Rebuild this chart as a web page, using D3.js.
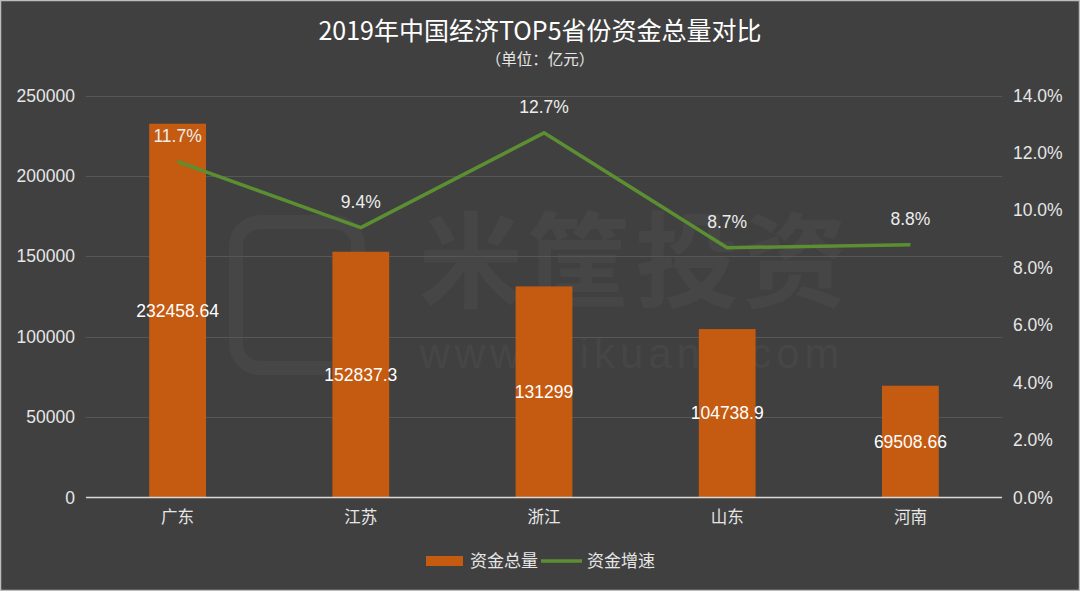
<!DOCTYPE html>
<html><head><meta charset="utf-8">
<script src="https://cdn.jsdelivr.net/npm/d3@7/dist/d3.min.js"></script>
<style>
html,body{margin:0;padding:0;background:#404040;}
svg{display:block;font-family:"Liberation Sans","Noto Sans CJK SC",sans-serif;}
</style></head>
<body>
<svg id="chart" width="1080" height="591"></svg>
<script>
const categories = ["广东","江苏","浙江","山东","河南"];
const amounts = [232458.64, 152837.3, 131299, 104738.9, 69508.66];
const amountLabels = ["232458.64","152837.3","131299","104738.9","69508.66"];
const growth = [11.7, 9.4, 12.7, 8.7, 8.8];
const leftTicks = [0, 50000, 100000, 150000, 200000, 250000];
const rightTicks = [0, 2, 4, 6, 8, 10, 12, 14];
const seriesNames = ["资金总量","资金增速"];
const titleText = "2019年中国经济TOP5省份资金总量对比";
const subtitleText = "（单位：亿元）";

(function(){
const W = 1080, H = 591;
const svg = d3.select("#chart");
const cjk = '"Noto Sans CJK SC","Liberation Sans",sans-serif';
const lat = '"Liberation Sans", sans-serif';

svg.append("rect").attr("width", W).attr("height", H).attr("fill", "#404040");
svg.append("rect").attr("x", 0.5).attr("y", 0.5).attr("width", W-1).attr("height", H-1)
  .attr("fill", "none").attr("stroke", "#bdbdbd").attr("stroke-width", 1.5);

const pL = 86, pR = 1002, pT = 95.5, pB = 497.5;

const x = d3.scaleBand().domain(categories).range([pL, pR]).padding(0);
const y = d3.scaleLinear().domain([0, 250000]).range([pB, pT]);
const y2 = d3.scaleLinear().domain([0, 14]).range([pB, pT]);

// watermark (faint)
const wmc = "#464646";
const wm = svg.append("g").attr("fill", wmc);
wm.append("text").attr("x", 635).attr("y", 300).attr("text-anchor", "middle")
  .attr("font-family", cjk).attr("font-size", 104).attr("font-weight", 700)
  .attr("letter-spacing", 4).text("米筐投资");
wm.append("text").attr("x", 632).attr("y", 368).attr("text-anchor", "middle")
  .attr("font-family", lat).attr("font-size", 42)
  .attr("letter-spacing", 5).text("www.mikuang.com");
wm.append("rect").attr("x", 236).attr("y", 222).attr("width", 122).attr("height", 146)
  .attr("rx", 24).attr("fill", "none").attr("stroke", wmc).attr("stroke-width", 14);

// gridlines
svg.append("g").selectAll("line").data(leftTicks.filter(d => d > 0)).join("line")
  .attr("x1", pL).attr("x2", pR)
  .attr("y1", d => Math.round(y(d)) + 0.5).attr("y2", d => Math.round(y(d)) + 0.5)
  .attr("stroke", "#575757").attr("stroke-width", 1);

// left axis
const ly = svg.append("g").attr("transform", `translate(${pL},0)`)
  .call(d3.axisLeft(y).tickValues(leftTicks).tickSize(0).tickPadding(11).tickFormat(d3.format("d")));
ly.select(".domain").remove();
ly.selectAll("text").attr("fill", "#e6e6e6").attr("font-size", 17.5).attr("font-family", lat);

// right axis
const ry = svg.append("g").attr("transform", `translate(${pR},0)`)
  .call(d3.axisRight(y2).tickValues(rightTicks).tickSize(0).tickPadding(11).tickFormat(d => d.toFixed(1) + "%"));
ry.select(".domain").remove();
ry.selectAll("text").attr("fill", "#e6e6e6").attr("font-size", 17.5).attr("font-family", lat);

// bars
const barW = x.bandwidth() * 0.31;
svg.append("g").selectAll("rect").data(categories).join("rect")
  .attr("x", (d) => x(d) + x.bandwidth()/2 - barW/2)
  .attr("y", (d, i) => y(amounts[i]))
  .attr("width", barW)
  .attr("height", (d, i) => y(0) - y(amounts[i]))
  .attr("fill", "#c55a11");

// baseline
svg.append("line").attr("x1", pL).attr("x2", pR)
  .attr("y1", pB).attr("y2", pB).attr("stroke", "#d9d9d9").attr("stroke-width", 1.5);

// x axis labels
const xa = svg.append("g").attr("transform", `translate(0,${pB})`)
  .call(d3.axisBottom(x).tickSize(0).tickPadding(14));
xa.select(".domain").remove();
xa.selectAll("text").attr("fill", "#e6e6e6").attr("font-size", 16.5).attr("font-family", cjk);

// bar value labels
svg.append("g").selectAll("text").data(categories).join("text")
  .attr("x", d => x(d) + x.bandwidth()/2)
  .attr("y", (d, i) => (y(amounts[i]) + y(0)) / 2)
  .attr("dy", "0.35em").attr("text-anchor", "middle")
  .attr("fill", "#ffffff").attr("font-size", 17.5).attr("font-family", lat)
  .text((d, i) => amountLabels[i]);

// line
const line = d3.line().x((d, i) => x(categories[i]) + x.bandwidth()/2).y(d => y2(d));
svg.append("path").datum(growth).attr("d", line)
  .attr("fill", "none").attr("stroke", "#5b8f32").attr("stroke-width", 3.5)
  .attr("stroke-linejoin", "round");

// line labels
svg.append("g").selectAll("text").data(growth).join("text")
  .attr("x", (d, i) => x(categories[i]) + x.bandwidth()/2)
  .attr("y", d => y2(d) - 26)
  .attr("dy", "0.35em").attr("text-anchor", "middle")
  .attr("fill", "#ececec").attr("font-size", 17.5).attr("font-family", lat)
  .text(d => d.toFixed(1) + "%");

// title
svg.append("text").attr("x", 540).attr("y", 40).attr("text-anchor", "middle")
  .attr("fill", "#ffffff").attr("font-size", 25).attr("font-family", cjk)
  .text(titleText);
svg.append("text").attr("x", 540).attr("y", 65).attr("text-anchor", "middle")
  .attr("fill", "#e6e6e6").attr("font-size", 15.5).attr("font-family", cjk)
  .text(subtitleText);

// legend
const lg = svg.append("g");
lg.append("rect").attr("x", 426).attr("y", 556).attr("width", 37).attr("height", 10).attr("fill", "#c55a11");
lg.append("text").attr("x", 470).attr("y", 561).attr("dy", "0.35em")
  .attr("fill", "#e6e6e6").attr("font-size", 17).attr("font-family", cjk).text(seriesNames[0]);
lg.append("line").attr("x1", 541).attr("x2", 582).attr("y1", 561).attr("y2", 561)
  .attr("stroke", "#5b8f32").attr("stroke-width", 3.5);
lg.append("text").attr("x", 587).attr("y", 561).attr("dy", "0.35em")
  .attr("fill", "#e6e6e6").attr("font-size", 17).attr("font-family", cjk).text(seriesNames[1]);
})();
</script>
</body></html>
